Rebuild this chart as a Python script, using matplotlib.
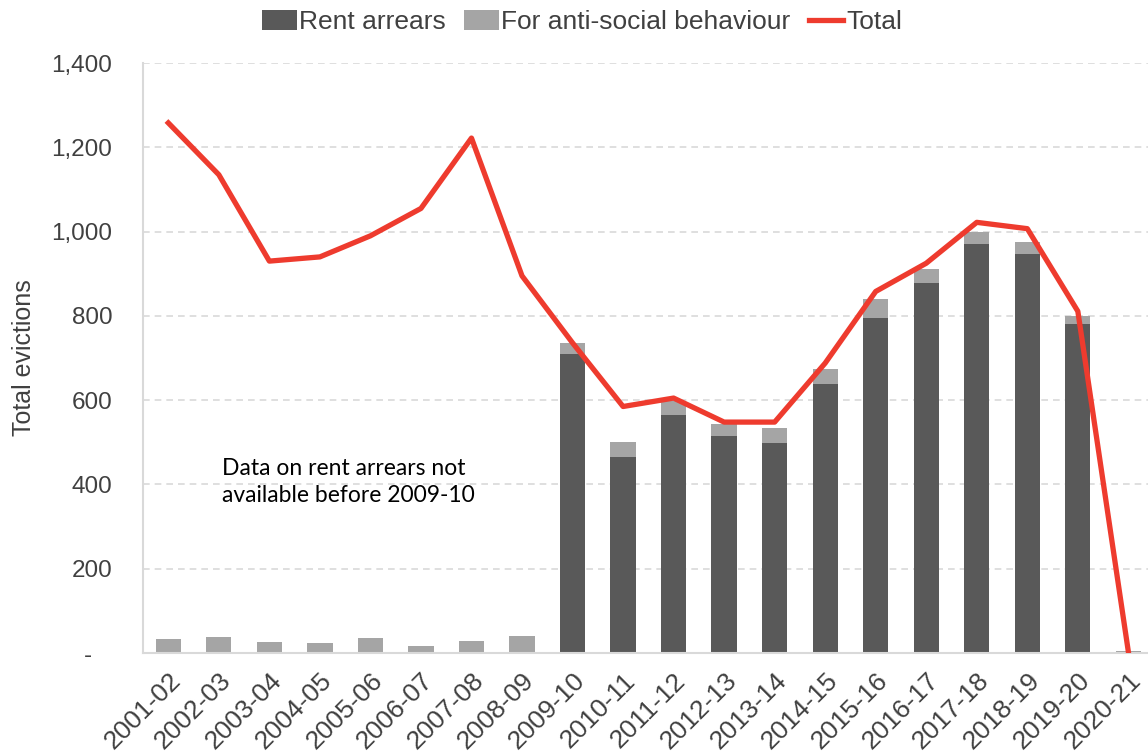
import numpy as np
import matplotlib.pyplot as plt
from matplotlib.ticker import FuncFormatter

plt.rcParams['font.family'] = ['Liberation Sans', 'DejaVu Sans']

# Anni fiscali
years = ["2001-02", "2002-03", "2003-04", "2004-05", "2005-06", "2006-07",
         "2007-08", "2008-09", "2009-10", "2010-11", "2011-12", "2012-13",
         "2013-14", "2014-15", "2015-16", "2016-17", "2017-18", "2018-19",
         "2019-20", "2020-21"]

# Sfratti per arretrati d'affitto (dati solo dal 2009-10)
rent_arrears = [0, 0, 0, 0, 0, 0, 0, 0, 709, 464, 564, 516, 499, 638, 795,
                878, 970, 948, 781, 0]

# Sfratti per comportamento antisociale
anti_social = [33, 38, 27, 24, 36, 17, 28, 40, 26, 37, 34, 27, 35, 35, 45,
               34, 30, 27, 19, 5]

# Totale sfratti
total = [1258, 1135, 930, 940, 990, 1055, 1222, 895, 736, 585, 605, 548,
         548, 688, 858, 925, 1022, 1007, 811, 3]

text_col = '#404040'
fig = plt.figure(figsize=(11.48, 7.56), dpi=100)
ax = fig.add_axes([0.1246, 0.1362, 0.8803, 0.7804])

x = np.arange(len(years))
w = 0.5
ax.bar(x, rent_arrears, w, color='#595959', label='Rent arrears', zorder=2)
ax.bar(x, anti_social, w, bottom=rent_arrears, color='#A5A5A5',
       label='For anti-social behaviour', zorder=2)
ax.plot(x, total, color='#EE3B2E', lw=3.8, label='Total', zorder=3)

ax.set_xlim(-0.5, len(years) - 0.5)
ax.set_ylim(0, 1400)
ax.set_yticks(np.arange(0, 1401, 200))
ax.yaxis.set_major_formatter(FuncFormatter(lambda v, p: '-   ' if v == 0 else f'{int(v):,}'))
ax.set_xticks(x)
ax.set_xticklabels(years, rotation=45, ha='right', rotation_mode='anchor')
ax.tick_params(axis='y', length=0, colors=text_col, labelsize=17.5, pad=22)
ax.tick_params(axis='x', length=0, colors=text_col, labelsize=19, pad=11)

ax.grid(axis='y', color='#D9D9D9', ls=(0, (4, 3)), lw=1.2, zorder=0)
for s in ['top', 'right']:
    ax.spines[s].set_visible(False)
for s in ['left', 'bottom']:
    ax.spines[s].set_color('#D9D9D9')
    ax.spines[s].set_linewidth(1.5)

ax.set_ylabel('Total evictions', fontsize=18, color=text_col, labelpad=11)

ax.text(1.06, 406, 'Data on rent arrears not\navailable before 2009-10',
        fontsize=16.5, family=['Lato', 'DejaVu Sans'], color='black',
        linespacing=1.4, va='center')

h, l = ax.get_legend_handles_labels()
order = [1, 2, 0]
fig.legend([h[i] for i in order], [l[i] for i in order],
           loc='upper center', bbox_to_anchor=(0.507, 1.018), ncol=3,
           frameon=False, fontsize=19, handlelength=1.3, handleheight=0.75,
           handletextpad=0.1, columnspacing=0.7, labelcolor=text_col)

fig.savefig('out.png', dpi=100)
